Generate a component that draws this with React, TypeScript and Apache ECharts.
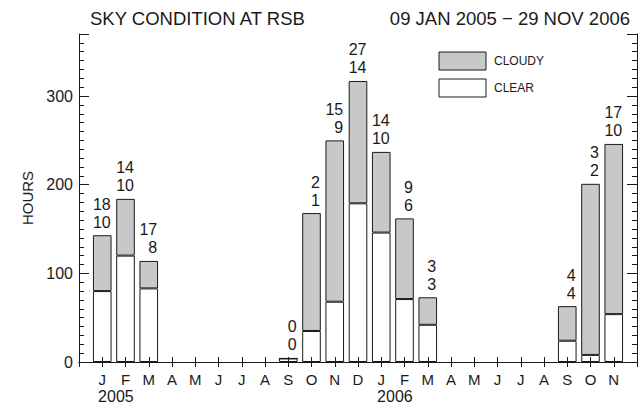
import React, { useEffect, useRef } from "react";
import * as echarts from "echarts";

// Months from January 2005 to November 2006
const months = ["J", "F", "M", "A", "M", "J", "J", "A", "S", "O", "N", "D",
  "J", "F", "M", "A", "M", "J", "J", "A", "S", "O", "N"];

// Hours of clear sky per month (null = no observations)
const clearHours = [80, 120, 83, null, null, null, null, null, 4, 35, 68, 179,
  146, 71, 42, null, null, null, null, null, 24, 8, 54];

// Hours of cloudy sky per month, stacked on top of the clear hours
const cloudyHours = [63, 64, 31, null, null, null, null, null, 0, 133, 182, 138,
  91, 91, 31, null, null, null, null, null, 39, 193, 192];

// Counts printed above each bar (upper line / lower line)
const upperCounts = [18, 14, 17, null, null, null, null, null, 0, 2, 15, 27,
  14, 9, 3, null, null, null, null, null, 4, 3, 17];
const lowerCounts = [10, 10, 8, null, null, null, null, null, 0, 1, 9, 14,
  10, 6, 3, null, null, null, null, null, 4, 2, 10];

// Year captions, centred between the first two months of each year
const years = [
  { text: "2005", monthIndex: 0 },
  { text: "2006", monthIndex: 12 },
];

const titleText = "SKY CONDITION AT RSB";
const rangeText = "09 JAN 2005 \u2212 29 NOV 2006";

const FONT = "Liberation Sans";
const INK = "#1a1a1a";

// One empty slot on each side so the frame extends a month past the data
const categories = ["", ...months, ""];
const pad = (arr: (number | null)[]) => [null, ...arr, null];

export default function App() {
  const ref = useRef<HTMLDivElement>(null);

  useEffect(() => {
    document.body.style.margin = "0";
    if (!ref.current) return;
    const chart = echarts.init(ref.current, null, { renderer: "svg" });

    const xCommon = {
      type: "category" as const,
      data: categories,
      boundaryGap: false,
      z: 5,
      axisLine: { show: true, lineStyle: { color: INK, width: 1 } },
      axisTick: { show: true, inside: true, length: 5, interval: 0, lineStyle: { color: INK } },
      splitLine: { show: false },
    };
    const yCommon = {
      type: "value" as const,
      min: 0,
      max: 370,
      interval: 100,
      z: 5,
      axisLine: { show: true, lineStyle: { color: INK, width: 1 } },
      axisTick: { show: true, inside: true, length: 10, lineStyle: { color: INK } },
      minorTick: { show: true, splitNumber: 10, length: 5, lineStyle: { color: INK } },
      splitLine: { show: false },
      minorSplitLine: { show: false },
    };

    chart.setOption({
      animation: false,
      backgroundColor: "#ffffff",
      grid: { left: 79, right: 5, top: 34, bottom: 43, containLabel: false },
      xAxis: [
        {
          ...xCommon,
          position: "bottom",
          axisLabel: {
            show: true,
            interval: 0,
            margin: 10,
            fontSize: 15,
            fontFamily: FONT,
            color: INK,
          },
        },
        {
          ...xCommon,
          position: "top",
          axisLabel: { show: false },
        },
      ],
      yAxis: [
        {
          ...yCommon,
          position: "left",
          name: "HOURS",
          nameLocation: "middle",
          nameGap: 44,
          nameTextStyle: { fontSize: 15, fontFamily: FONT, color: INK },
          axisLabel: {
            show: true,
            margin: 6,
            fontSize: 16,
            fontFamily: FONT,
            color: INK,
            formatter: (v: number) => (v % 100 === 0 ? String(v) : ""),
          },
        },
        {
          ...yCommon,
          position: "right",
          axisLabel: { show: false },
        },
      ],
      series: [
        {
          name: "CLEAR",
          type: "bar",
          stack: "sky",
          barWidth: "80%",
          data: pad(clearHours),
          itemStyle: { color: "#ffffff", borderColor: INK, borderWidth: 1 },
        },
        {
          name: "CLOUDY",
          type: "bar",
          stack: "sky",
          barWidth: "80%",
          data: pad(cloudyHours),
          itemStyle: { color: "#c8c8c8", borderColor: INK, borderWidth: 1 },
          label: {
            show: true,
            position: "top",
            distance: 4,
            align: "right",
            offset: [8.5, 0],
            fontSize: 16,
            lineHeight: 18,
            fontFamily: FONT,
            color: INK,
            formatter: (p: any) => {
              const i = p.dataIndex - 1;
              const up = upperCounts[i];
              const lo = lowerCounts[i];
              if (up == null || lo == null) return "";
              return `${up}\n${lo}`;
            },
          },
        },
      ],
    });

    const px = (idx: number) =>
      chart.convertToPixel({ xAxisIndex: 0 }, idx) as unknown as number;

    const yearTexts = years.map((y) => {
      const a = px(y.monthIndex + 1);
      const b = px(y.monthIndex + 2);
      return {
        type: "text",
        x: (a + b) / 2 + 2,
        y: 396,
        style: {
          text: y.text,
          fontSize: 16,
          fontFamily: FONT,
          fill: INK,
          align: "center",
          verticalAlign: "middle",
        },
      };
    });

    chart.setOption({
      graphic: [
        {
          type: "text",
          x: 90,
          y: 18,
          style: {
            text: titleText,
            fontSize: 18.5,
            fontFamily: FONT,
            fill: INK,
            verticalAlign: "middle",
          },
        },
        {
          type: "text",
          x: 630,
          y: 18,
          style: {
            text: rangeText,
            fontSize: 18.5,
            fontFamily: FONT,
            fill: INK,
            align: "right",
            verticalAlign: "middle",
          },
        },
        {
          type: "rect",
          shape: { x: 439, y: 52, width: 47, height: 18 },
          style: { fill: "#c8c8c8", stroke: INK, lineWidth: 1 },
        },
        {
          type: "text",
          x: 494,
          y: 61,
          style: { text: "CLOUDY", fontSize: 12, fontFamily: FONT, fill: INK, verticalAlign: "middle" },
        },
        {
          type: "rect",
          shape: { x: 439, y: 79, width: 47, height: 18 },
          style: { fill: "#ffffff", stroke: INK, lineWidth: 1 },
        },
        {
          type: "text",
          x: 494,
          y: 88,
          style: { text: "CLEAR", fontSize: 12, fontFamily: FONT, fill: INK, verticalAlign: "middle" },
        },
        ...yearTexts,
      ],
    });

    return () => chart.dispose();
  }, []);

  return <div ref={ref} style={{ width: 642, height: 405 }} />;
}
